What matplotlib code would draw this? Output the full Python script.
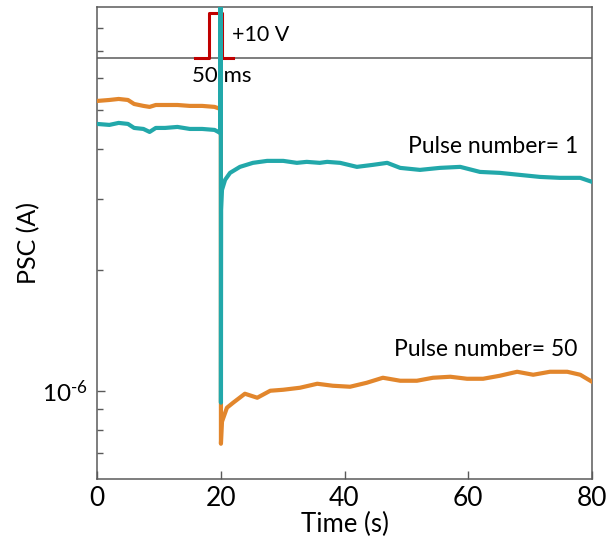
import matplotlib
matplotlib.use("Agg")
import matplotlib.pyplot as plt
from matplotlib.ticker import FixedLocator, NullFormatter

plt.rcParams['font.family'] = ['Lato', 'DejaVu Sans']
plt.rcParams['mathtext.fontset'] = 'custom'
plt.rcParams['mathtext.rm'] = 'Lato'
plt.rcParams['mathtext.default'] = 'regular'

# ---- data ----
t_p1 = [0, 2, 3.5, 5, 6, 7.5, 8.5, 9.5, 11, 13, 15, 17, 19, 19.9,
        20.0, 20.03, 20.06,
        20.2, 20.7, 21.5, 23.1, 25.2, 27.5, 30.1, 32.3, 33.9, 36.0, 37.2, 39.3,
        42.0, 44.6, 46.9, 49.0, 52.2, 55.4, 58.7, 61.9, 65.1, 68.4, 71.6, 74.8,
        78.1, 80]
psc_p1 = [4.615, 4.589, 4.642, 4.615, 4.510, 4.484, 4.408, 4.510, 4.510, 4.536,
          4.484, 4.484, 4.459, 4.383,
          100, 0.934, 2.820,
          3.162, 3.349, 3.486, 3.608, 3.692, 3.734, 3.734, 3.692, 3.713, 3.692,
          3.713, 3.692,
          3.608, 3.650, 3.692, 3.587, 3.546, 3.587, 3.608, 3.505, 3.486, 3.445,
          3.406, 3.388, 3.388, 3.311]

t_p50 = [0, 2, 3.5, 5, 6, 7.5, 8.5, 9.5, 11, 13, 15, 17, 19, 19.9,
         20.0, 20.03,
         20.2, 21.0, 22.0, 23.9, 25.9, 28.0, 30.1, 32.8, 35.6, 38.1,
         40.9, 43.6, 46.2, 49.0, 51.7, 54.3, 57.1, 59.8, 62.4, 65.1,
         67.9, 70.5, 73.2, 76.0, 78.1, 80]
psc_p50 = [5.264, 5.294, 5.325, 5.294, 5.174, 5.117, 5.088, 5.144, 5.144, 5.144,
           5.117, 5.117, 5.088, 5.030,
           100, 0.738,
           0.8375, 0.9073, 0.9336, 0.9830, 0.9607, 1.0, 1.0057, 1.0173, 1.0409,
           1.0291, 1.0232, 1.0469, 1.0773, 1.0590, 1.0590, 1.0773, 1.0835,
           1.0711, 1.0711, 1.0897, 1.1149, 1.0960, 1.1149, 1.1149, 1.0960, 1.0529]

# voltage pulse schematic (time, current-axis level in 1e-6 A)
pulse_t = [15.8, 18.1, 18.1, 20.2, 20.2, 22.0]
pulse_y = [6.74, 6.74, 8.71, 8.71, 6.74, 6.74]
divider_level = 6.736

x_ticks = [0, 20, 40, 60, 80]
y_minor = [0.7, 0.8, 0.9, 2, 3, 4, 5, 6, 7, 8]

teal = '#22a8aa'
orange = '#e2862c'
red = '#c00000'
gray = '#5a5a5a'

fig = plt.figure(figsize=(6.08, 5.59), dpi=100)
ax = fig.add_axes([97/608, 1-479/559, (592-97)/608, (479-7)/559])

sc = 1e-6
ax.plot(t_p50, [v*sc for v in psc_p50], color=orange, lw=3, solid_joinstyle='round', zorder=3)
ax.plot(t_p1, [v*sc for v in psc_p1], color=teal, lw=3, solid_joinstyle='round', zorder=4)
ax.axhline(divider_level*sc, color=gray, lw=1.1, zorder=2)
ax.plot(pulse_t, [v*sc for v in pulse_y], color=red, lw=2.2, zorder=3.5)

ax.set_yscale('log')
ax.set_xlim(0, 80)
ax.set_ylim(6.03e-7, 9.02e-6)
ax.set_xticks(x_ticks)
ax.yaxis.set_major_locator(FixedLocator([1e-6]))
ax.yaxis.set_major_formatter(plt.FuncFormatter(lambda v, p: '10$^{\\text{-}6}$'))
ax.yaxis.set_minor_locator(FixedLocator([v*sc for v in y_minor]))
ax.yaxis.set_minor_formatter(NullFormatter())

for s in ax.spines.values():
    s.set_color(gray)
    s.set_linewidth(1.1)
ax.tick_params(axis='both', which='both', direction='in', color=gray,
               top=False, right=False)
ax.tick_params(axis='x', which='major', length=6, width=1, pad=5, labelsize=19)
ax.tick_params(axis='y', which='major', length=6, width=1, pad=7, labelsize=17.5)
ax.tick_params(axis='y', which='minor', length=4, width=1)

ax.set_xlabel('Time (s)', fontsize=18.5, labelpad=1)
ax.set_ylabel('PSC (A)', fontsize=18, labelpad=1)

ax.text(21.8, 7.68e-6, '+10 V', fontsize=15.5, ha='left', va='center')
ax.text(20.1, 6.07e-6, '50 ms', fontsize=16, ha='center', va='center')
ax.text(77.7, 4.05e-6, 'Pulse number= 1', fontsize=16.5, ha='right', va='center')
ax.text(77.7, 1.265e-6, 'Pulse number= 50', fontsize=16.5, ha='right', va='center')

fig.savefig('out.png', dpi=100)
